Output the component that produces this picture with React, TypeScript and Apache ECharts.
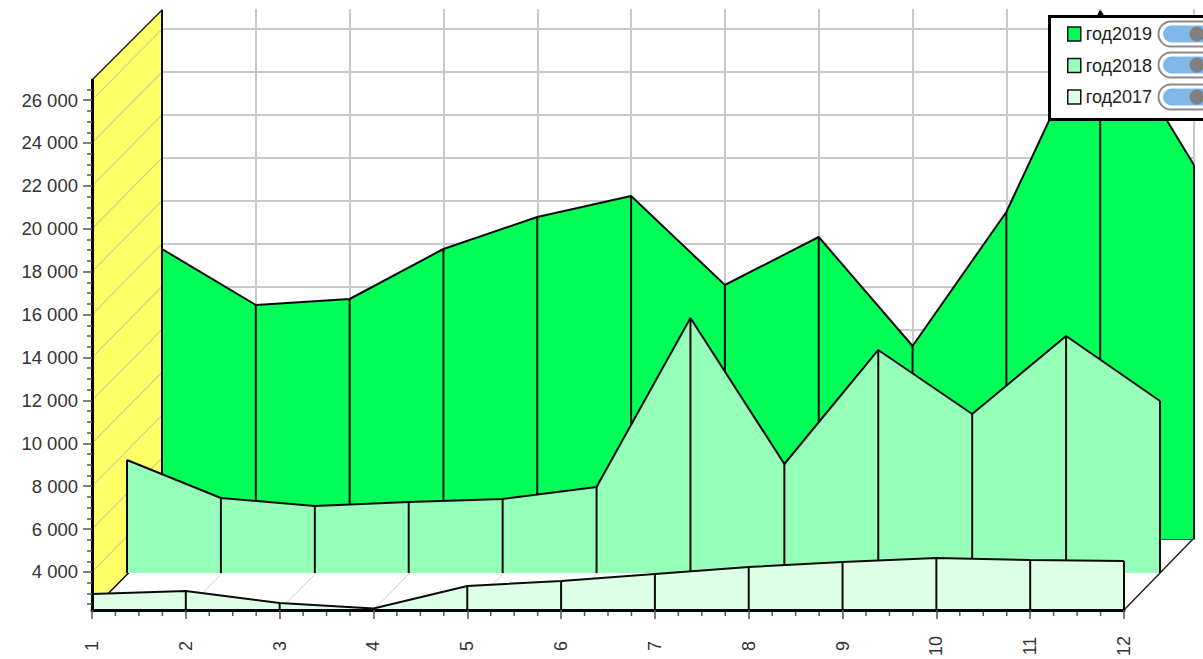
import React, { useEffect, useRef } from "react";
import * as echarts from "echarts";

const months = [1, 2, 3, 4, 5, 6, 7, 8, 9, 10, 11, 12];
const god2019 = [15748, 13137, 13417, 15748, 17240, 18219, 14070, 16308, 11226, 17473, 26840, 19664];
const god2018 = [7497, 5725, 5352, 5538, 5678, 6238, 14117, 7310, 12625, 9641, 13277, 10247];
const god2017 = [2974, 3114, 2555, 2298, 3347, 3580, 3907, 4233, 4466, 4653, 4559, 4513];
const majorTicks = [4000, 6000, 8000, 10000, 12000, 14000, 16000, 18000, 20000, 22000, 24000, 26000];
const minorTicks = [2500, 3000, 3500, 4500, 5000, 5500, 6500, 7000, 7500, 8500, 9000, 9500, 10500, 11000, 11500, 12500, 13000, 13500, 14500, 15000, 15500, 16500, 17000, 17500, 18500, 19000, 19500, 20500, 21000, 21500, 22500, 23000, 23500, 24500, 25000, 25500, 26500];
const minorMonthTicks = [1.25, 1.5, 1.75, 2.25, 2.5, 2.75, 3.25, 3.5, 3.75, 4.25, 4.5, 4.75, 5.25, 5.5, 5.75, 6.25, 6.5, 6.75, 7.25, 7.5, 7.75, 8.25, 8.5, 8.75, 9.25, 9.5, 9.75, 10.25, 10.5, 10.75, 11.25, 11.5, 11.75];
const seriesNames = ["год2019", "год2018", "год2017"];

const AXIS_MIN = 2228;
const AXIS_MAX = 26937;
const DEPTH_X = 70;
const DEPTH_Y = 71;
const COLORS = ["#00ff57", "#96ffb9", "#dcffe6"];
const LINE = "#0a0a0a";
const FONT = "'Liberation Sans', Arial, sans-serif";

const fmt = (v: number) => String(v).replace(/\B(?=(\d{3})+$)/g, " ");
const pairs = (vals: number[]) => vals.map((v, i) => [months[i], v]);

function dropSeries(vals: number[], ax: number, z: number) {
  return {
    type: "custom",
    xAxisIndex: ax,
    yAxisIndex: ax,
    z,
    silent: true,
    data: pairs(vals),
    renderItem: (_: any, api: any) => {
      const a = api.coord([api.value(0), api.value(1)]);
      const b = api.coord([api.value(0), AXIS_MIN]);
      return {
        type: "line",
        shape: { x1: a[0], y1: a[1], x2: b[0], y2: b[1] },
        style: { stroke: LINE, lineWidth: 2 },
      };
    },
  };
}

function areaSeries(name: string, vals: number[], ax: number, color: string, z: number) {
  return {
    type: "line",
    name,
    xAxisIndex: ax,
    yAxisIndex: ax,
    z,
    silent: true,
    showSymbol: false,
    data: pairs(vals),
    itemStyle: { color },
    lineStyle: { color: LINE, width: 2 },
    areaStyle: { color, opacity: 1 },
  };
}

const wallSeries = {
  type: "custom",
  xAxisIndex: 2,
  yAxisIndex: 2,
  z: 1,
  silent: true,
  data: [[1, 4000]],
  renderItem: (_: any, api: any) => {
    const bl = api.coord([1, AXIS_MIN]);
    const tl = api.coord([1, AXIS_MAX]);
    const br = api.coord([12, AXIS_MIN]);
    const seg = (x1: number, y1: number, x2: number, y2: number, stroke: string, lineWidth: number) => ({
      type: "line",
      shape: { x1, y1, x2, y2 },
      style: { stroke, lineWidth },
    });
    const children: any[] = [
      {
        type: "polygon",
        shape: {
          points: [
            [bl[0], bl[1]],
            [tl[0], tl[1]],
            [tl[0] + DEPTH_X, tl[1] - DEPTH_Y + 1],
            [bl[0] + DEPTH_X, bl[1] - DEPTH_Y],
          ],
        },
        style: { fill: "#ffff66" },
      },
    ];
    majorTicks.forEach((t) => {
      const p = api.coord([1, t]);
      children.push(seg(p[0], p[1], p[0] + DEPTH_X, p[1] - DEPTH_Y, "#d2d28c", 1.2));
    });
    months.slice(1, 11).forEach((m) => {
      const p = api.coord([m, AXIS_MIN]);
      children.push(seg(p[0], p[1], p[0] + DEPTH_X, p[1] - DEPTH_Y, "#cfcfcf", 1));
    });
    children.push(seg(tl[0], tl[1], tl[0] + DEPTH_X, tl[1] - DEPTH_Y + 1, "#222", 1.5));
    children.push(seg(tl[0] + DEPTH_X, tl[1] - DEPTH_Y + 1, bl[0] + DEPTH_X, bl[1] - DEPTH_Y, LINE, 2));
    children.push(seg(bl[0], bl[1], bl[0] + DEPTH_X, bl[1] - DEPTH_Y, LINE, 1.5));
    children.push(seg(br[0], br[1], br[0] + DEPTH_X - 1, br[1] - DEPTH_Y, "#222", 1.5));
    return { type: "group", children };
  },
};

const minorMonthSeries = {
  type: "custom",
  xAxisIndex: 2,
  yAxisIndex: 2,
  z: 5,
  silent: true,
  data: minorMonthTicks.map((m) => [m, AXIS_MIN]),
  renderItem: (_: any, api: any) => {
    const p = api.coord([api.value(0), api.value(1)]);
    return {
      type: "line",
      shape: { x1: p[0], y1: p[1], x2: p[0], y2: p[1] + 6 },
      style: { stroke: "#555", lineWidth: 1.5 },
    };
  },
};

const hiddenY = (gridIndex: number, extra: any = {}) => ({
  type: "value",
  gridIndex,
  position: "left",
  min: AXIS_MIN,
  max: AXIS_MAX,
  axisLine: { show: false, onZero: false },
  axisTick: { show: false },
  axisLabel: { show: false },
  splitLine: { show: false },
  ...extra,
});

const hiddenX = (gridIndex: number, extra: any = {}) => ({
  type: "value",
  gridIndex,
  position: "bottom",
  min: 1,
  max: 12,
  interval: 1,
  axisLine: { show: false, onZero: false },
  axisTick: { show: false },
  axisLabel: { show: false },
  splitLine: { show: false },
  ...extra,
});

const toggle = (cy: number) => [
  {
    type: "rect",
    z: 10,
    shape: { x: 1158.5, y: cy - 12.5, width: 70, height: 25, r: 12.5 },
    style: { fill: "#ffffff", stroke: "#8a8a8a", lineWidth: 2 },
  },
  {
    type: "rect",
    z: 11,
    shape: { x: 1163, y: cy - 8.5, width: 60, height: 17, r: 8.5 },
    style: { fill: "#80b8ea" },
  },
  {
    type: "circle",
    z: 12,
    shape: { cx: 1197, cy, r: 7.5 },
    style: { fill: "#808080" },
  },
];

export default function App() {
  const ref = useRef<HTMLDivElement>(null);
  useEffect(() => {
    document.body.style.margin = "0";
    const chart = echarts.init(ref.current!, undefined, { renderer: "svg" });
    chart.setOption({
      animation: false,
      backgroundColor: "#ffffff",
      grid: [
        { left: 162, width: 1032, top: 9, height: 530 },
        { left: 127, width: 1033, top: 43, height: 530 },
        { left: 92, width: 1032, top: 80, height: 530 },
      ],
      xAxis: [
        hiddenX(0, {
          axisLine: { show: true, onZero: false, lineStyle: { color: LINE, width: 1.5 } },
          splitLine: { show: true, lineStyle: { color: "#c9c9c9", width: 2 } },
        }),
        hiddenX(1),
        hiddenX(2, {
          z: 6,
          axisLine: { show: true, onZero: false, lineStyle: { color: "#000", width: 3 } },
          axisTick: { show: true, length: 9, lineStyle: { color: "#555", width: 1.5 } },
          axisLabel: {
            show: true,
            rotate: 90,
            align: "center",
            verticalAlign: "middle",
            margin: 36,
            fontFamily: FONT,
            fontSize: 18,
            color: "#333",
            showMinLabel: true,
            showMaxLabel: true,
          },
        }),
      ],
      yAxis: [
        hiddenY(0, {
          axisTick: { show: false, customValues: majorTicks },
          splitLine: { show: true, lineStyle: { color: "#c9c9c9", width: 2 } },
        }),
        hiddenY(1),
        hiddenY(2, {
          z: 6,
          axisLine: { show: true, onZero: false, lineStyle: { color: "#000", width: 3 } },
          axisTick: { show: true, length: 9, customValues: majorTicks, lineStyle: { color: "#555", width: 1.5 } },
          axisLabel: {
            show: true,
            customValues: majorTicks,
            margin: 14,
            formatter: (v: number) => fmt(v),
            fontFamily: FONT,
            fontSize: 18.5,
            color: "#333",
          },
        }),
        hiddenY(2, {
          z: 6,
          axisTick: { show: true, length: 5, customValues: minorTicks, lineStyle: { color: "#555", width: 1.5 } },
        }),
      ],
      legend: {
        z: 9,
        orient: "vertical",
        left: 1067,
        top: 25,
        itemWidth: 13,
        itemHeight: 14,
        itemGap: 13.5,
        padding: 0,
        selectedMode: false,
        textStyle: { fontFamily: FONT, fontSize: 18, color: "#222" },
        data: seriesNames.map((name, i) => ({
          name,
          icon: "rect",
          itemStyle: { color: COLORS[i], borderColor: "#111", borderWidth: 1.5 },
        })),
      },
      graphic: [
        {
          type: "rect",
          z: 8,
          shape: { x: 1049.5, y: 16.5, width: 170, height: 103 },
          style: { fill: "#ffffff", stroke: "#000", lineWidth: 3 },
        },
        ...toggle(34),
        ...toggle(65),
        ...toggle(97),
      ],
      series: [
        wallSeries,
        areaSeries(seriesNames[0], god2019, 0, COLORS[0], 2),
        dropSeries(god2019, 0, 2),
        areaSeries(seriesNames[1], god2018, 1, COLORS[1], 3),
        dropSeries(god2018, 1, 3),
        areaSeries(seriesNames[2], god2017, 2, COLORS[2], 4),
        dropSeries(god2017, 2, 4),
        minorMonthSeries,
      ],
    });
    return () => chart.dispose();
  }, []);
  return <div ref={ref} style={{ width: 1203, height: 659 }} />;
}
